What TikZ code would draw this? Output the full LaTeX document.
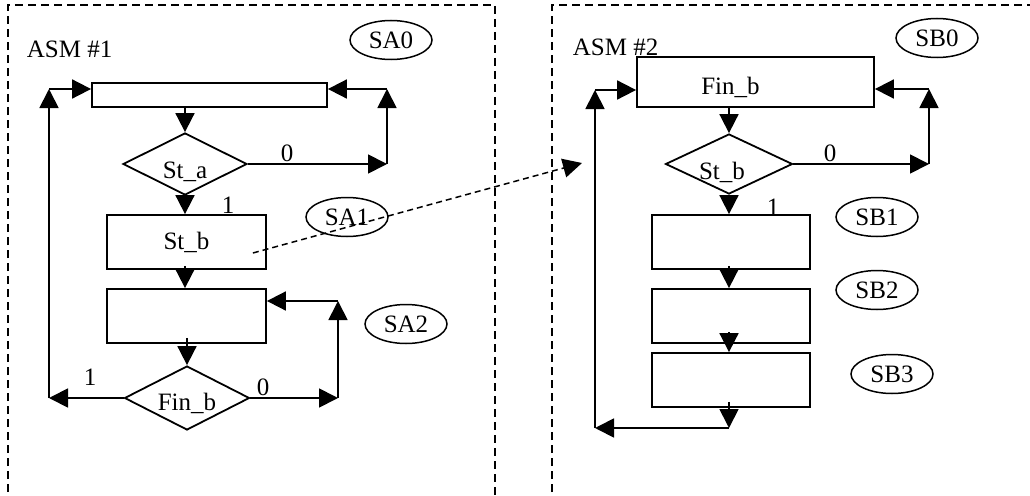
\documentclass[tikz,border=0pt]{standalone}
\usepackage{fontspec}
\setmainfont{Liberation Serif}
\usetikzlibrary{arrows.meta,shapes.geometric,calc}
\begin{document}
\begin{tikzpicture}[x=1pt,y=-1pt,
  font=\fontsize{25}{30}\selectfont,
  line width=1.8pt,
  tip/.style={-{Triangle[length=19pt,width=19pt]}},
  box/.style={draw,rectangle,inner sep=0pt},
  dec/.style={draw,diamond,inner sep=0pt,aspect=2},
  st/.style={draw,ellipse,minimum width=82pt,minimum height=39pt,inner sep=0pt,line width=1.5pt},
  panel/.style={dash pattern=on 8pt off 5pt,line width=2pt},
  lbl/.style={inner sep=0pt}]
\useasboundingbox (0,0) rectangle (1030,495);
\clip (0,0) rectangle (1030,495);
% panels
\draw[panel] (8,505) -- (8,5) -- (495,5) -- (495,505);
\draw[panel] (552,505) -- (552,5) -- (1040,5);
% ---------- ASM #1 ----------
\node[lbl,anchor=base west] (asm1) at (26,57) {ASM \#1};
\node[box,minimum width=235pt,minimum height=24pt] (a0) at (209.5,95) {};
\node[dec,minimum width=124pt,minimum height=62pt,label={[yshift=-8pt]center:St\_a}] (sta) at (185,164) {};
\node[box,minimum width=159pt,minimum height=54pt] (a1) at (186.5,242) {St\_b};
\node[box,minimum width=159pt,minimum height=54pt] (a2) at (186.5,316) {};
\node[dec,minimum width=125pt,minimum height=64pt,label={[yshift=-5pt]center:Fin\_b}] (finb) at (187,398) {};
\node[st] (sa0) at (391,40) {SA0};
\node[st] (sa1) at (347,217) {SA1};
\node[st] (sa2) at (406,324) {SA2};
\node[lbl] (la0) at (287,153) {0};
\node[lbl] (la1) at (228,205) {1};
\node[lbl] (lf1) at (90,377) {1};
\node[lbl] (lf0) at (263,387) {0};
\coordinate (la) at (49,398);
\coordinate (lb) at (49,89);
\coordinate (ra) at (387,164);
\coordinate (rb) at (387,89);
\coordinate (rc) at (338,398);
\coordinate (rd) at (338,301);
\draw[tip] (sta.north |- a0.south) -- (sta.north);
\draw[tip] (sta.south) -- (sta.south |- a1.north);
\draw[tip] ($(sta.south |- a1.south)+(0,-4)$) -- (sta.south |- a2.north);
\draw[tip] ($(finb.north |- a2.south)+(0,-6)$) -- (finb.north);
\draw[tip] (sta.east) -- (ra);
\draw[tip] (ra) -- (rb);
\draw[tip] (rb) -- (rb -| a0.east);
\draw[tip] (finb.west) -- (la);
\draw[tip] (la) -- (lb);
\draw[tip] (lb) -- (lb -| a0.west);
\draw[tip] (finb.east) -- (rc);
\draw[tip] (rc) -- (rd);
\draw[tip] (rd) -- (rd -| a2.east);
% ---------- ASM #2 ----------
\node[lbl,anchor=base west] (asm2) at (572,56) {ASM \#2};
\node[box,minimum width=237pt,minimum height=50pt,label={[xshift=-25pt,yshift=-5pt]center:Fin\_b}] (b0) at (755.5,82) {};
\node[dec,minimum width=127pt,minimum height=60pt,label={[xshift=-7pt,yshift=-8pt]center:St\_b}] (stb) at (729,164) {};
\node[box,minimum width=158pt,minimum height=54pt] (b1) at (731,242) {};
\node[box,minimum width=158pt,minimum height=54pt] (b2) at (731,316) {};
\node[box,minimum width=158pt,minimum height=54pt] (b3) at (731,380) {};
\node[st] (sb0) at (937,38) {SB0};
\node[st] (sb1) at (877,217) {SB1};
\node[st] (sb2) at (877,290) {SB2};
\node[st] (sb3) at (892,374) {SB3};
\node[lbl] (lb0) at (830,153) {0};
\node[lbl] (lb1) at (773,207) {1};
\coordinate (rba) at (929,164);
\coordinate (rbb) at (929,89);
\coordinate (bd) at (729,428);
\coordinate (bl) at (595,428);
\coordinate (bt) at (595,90);
\draw[tip] (stb.north |- b0.south) -- (stb.north);
\draw[tip] (stb.south) -- (stb.south |- b1.north);
\draw[tip] ($(stb.south |- b1.south)+(0,-4)$) -- (stb.south |- b2.north);
\draw[tip] ($(stb.south |- b2.south)+(0,-12)$) -- (stb.south |- b3.north);
\draw[tip] ($(stb.south |- b3.south)+(0,-6)$) -- (bd);
\draw[tip] (bd) -- (bl);
\draw[tip] (bl) -- (bt);
\draw[tip] (bt) -- (bt -| b0.west);
\draw[tip] (stb.east) -- (rba);
\draw[tip] (rba) -- (rbb);
\draw[tip] (rbb) -- (rbb -| b0.east);
% dashed link
\coordinate (dt) at (582,163);
\draw[tip,line width=1.5pt,dash pattern=on 6pt off 4pt] ($(a1.east)+(-14,11)$) -- (dt);
\end{tikzpicture}
\end{document}
